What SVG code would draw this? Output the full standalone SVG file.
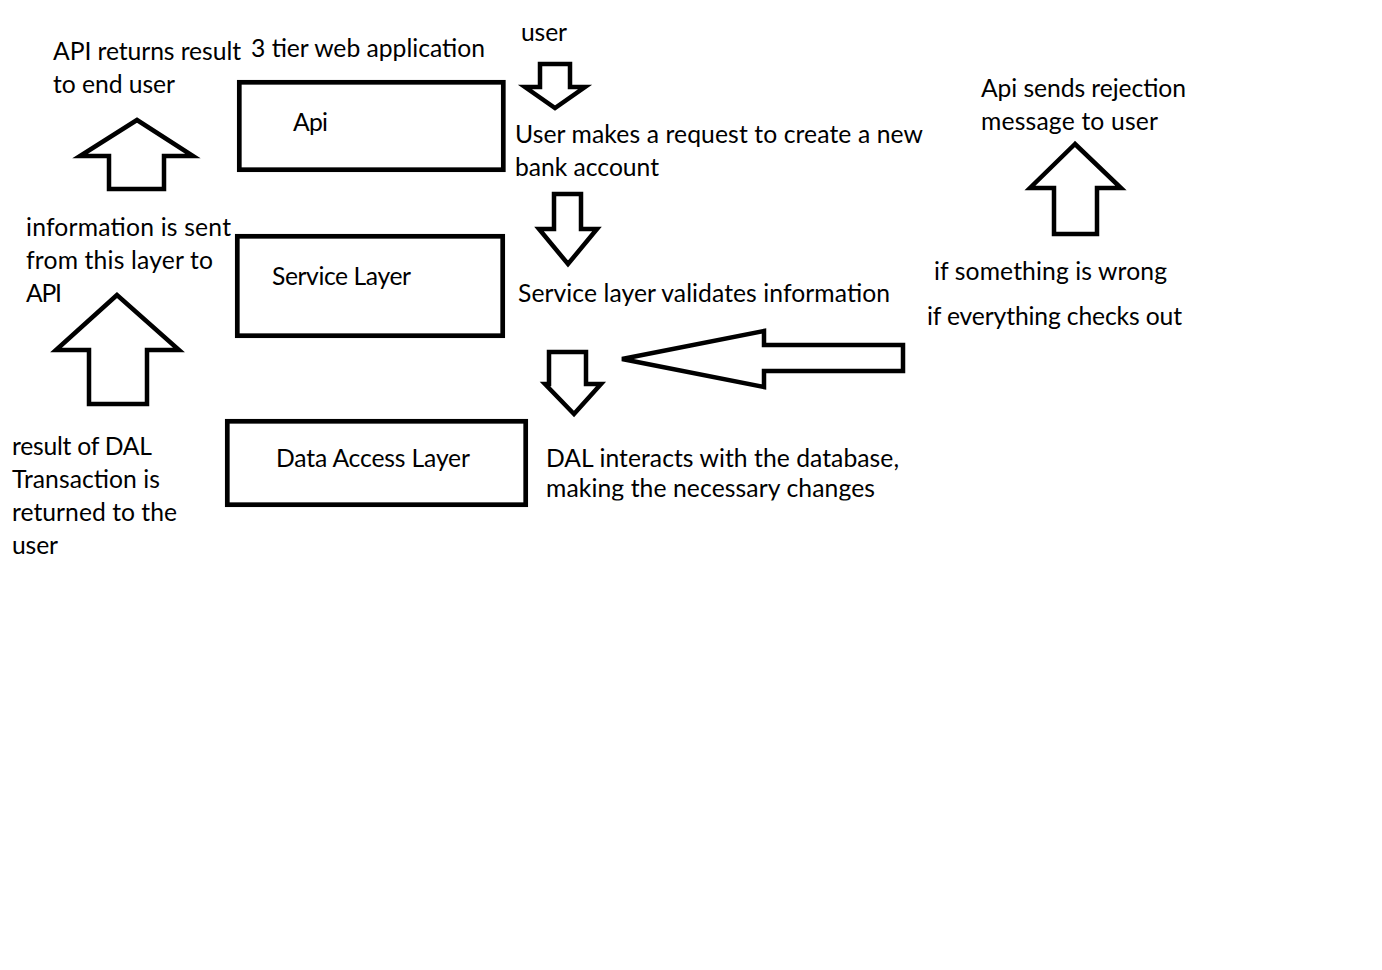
<svg xmlns="http://www.w3.org/2000/svg" width="1382" height="970" viewBox="0 0 1382 970">
  <style>
    text { font-family: Lato, "Open Sans", sans-serif; font-size: 24.7px; fill: #000; }
    .box { fill: none; stroke: #000; stroke-width: 4.7; }
    .arrow { fill: none; stroke: #000; stroke-width: 4.5; stroke-linejoin: miter; }
  </style>
  <defs>
    <clipPath id="clipDal">
      <rect x="530" y="430" width="420" height="70.5"/>
    </clipPath>
  </defs>
  <rect x="0" y="0" width="1382" height="970" fill="#fff"/>

  <g id="api">
    <rect class="box" x="239.3" y="82.3" width="264" height="87.4"/>
    <text x="293" y="131" textLength="35" lengthAdjust="spacing">Api</text>
  </g>
  <g id="service-layer">
    <rect class="box" x="237.3" y="236.3" width="265.4" height="99.4"/>
    <text x="272" y="285" textLength="139" lengthAdjust="spacing">Service Layer</text>
  </g>
  <g id="data-access-layer">
    <rect class="box" x="227.3" y="421.3" width="298.4" height="83.4"/>
    <text x="276" y="467" textLength="194" lengthAdjust="spacing">Data Access Layer</text>
  </g>

  <g id="labels">
    <text x="251" y="57" textLength="234" lengthAdjust="spacing">3 tier web application</text>
    <text x="521" y="41" textLength="46" lengthAdjust="spacing">user</text>
    <text x="53" y="60" textLength="188" lengthAdjust="spacing">API returns result</text>
    <text x="53" y="93" textLength="122" lengthAdjust="spacing">to end user</text>
    <text x="515" y="143" textLength="408" lengthAdjust="spacing">User makes a request to create a new</text>
    <text x="515" y="176" textLength="144" lengthAdjust="spacing">bank account</text>
    <text x="981" y="97" textLength="205" lengthAdjust="spacing">Api sends rejection</text>
    <text x="981" y="130" textLength="177" lengthAdjust="spacing">message to user</text>
    <text x="26" y="236" textLength="205" lengthAdjust="spacing">information is sent</text>
    <text x="26" y="269" textLength="187" lengthAdjust="spacing">from this layer to</text>
    <text x="26" y="302" textLength="36" lengthAdjust="spacing">API</text>
    <text x="518" y="302" textLength="372" lengthAdjust="spacing">Service layer validates information</text>
    <text x="934" y="280" textLength="233" lengthAdjust="spacing">if something is wrong</text>
    <text x="927" y="325" textLength="255" lengthAdjust="spacing">if everything checks out</text>
    <text x="12" y="455" textLength="140" lengthAdjust="spacing">result of DAL</text>
    <text x="12" y="488" textLength="148" lengthAdjust="spacing">Transaction is</text>
    <text x="12" y="521" textLength="165" lengthAdjust="spacing">returned to the</text>
    <text x="12" y="554" textLength="46" lengthAdjust="spacing">user</text>
    <g clip-path="url(#clipDal)">
      <text x="546" y="467" textLength="353" lengthAdjust="spacing">DAL interacts with the database,</text>
      <text x="546" y="497" textLength="329" lengthAdjust="spacing">making the necessary changes</text>
    </g>
  </g>

  <g id="connectors">
    <polygon class="arrow" points="137,120 80,156 109,156 109,189 164,189 164,156 193,156"/>
    <polygon class="arrow" points="117,295 56,350 89,350 89,404 147,404 147,350 179,350"/>
    <polygon class="arrow" points="540,64 570,64 570,87 585,87 555,108 525,87 540,87"/>
    <polygon class="arrow" points="554,194 581,194 581,229 597,229 568,264 539,229 554,229"/>
    <polygon class="arrow" points="549,352 586,352 586,384 601,384 574,414 545,384 549,384"/>
    <polygon class="arrow" points="622,359 764,331 764,345 903,345 903,371 764,371 764,387"/>
    <polygon class="arrow" points="1075,144 1030,188 1054,188 1054,234 1097,234 1097,188 1121,188"/>
  </g>
</svg>
